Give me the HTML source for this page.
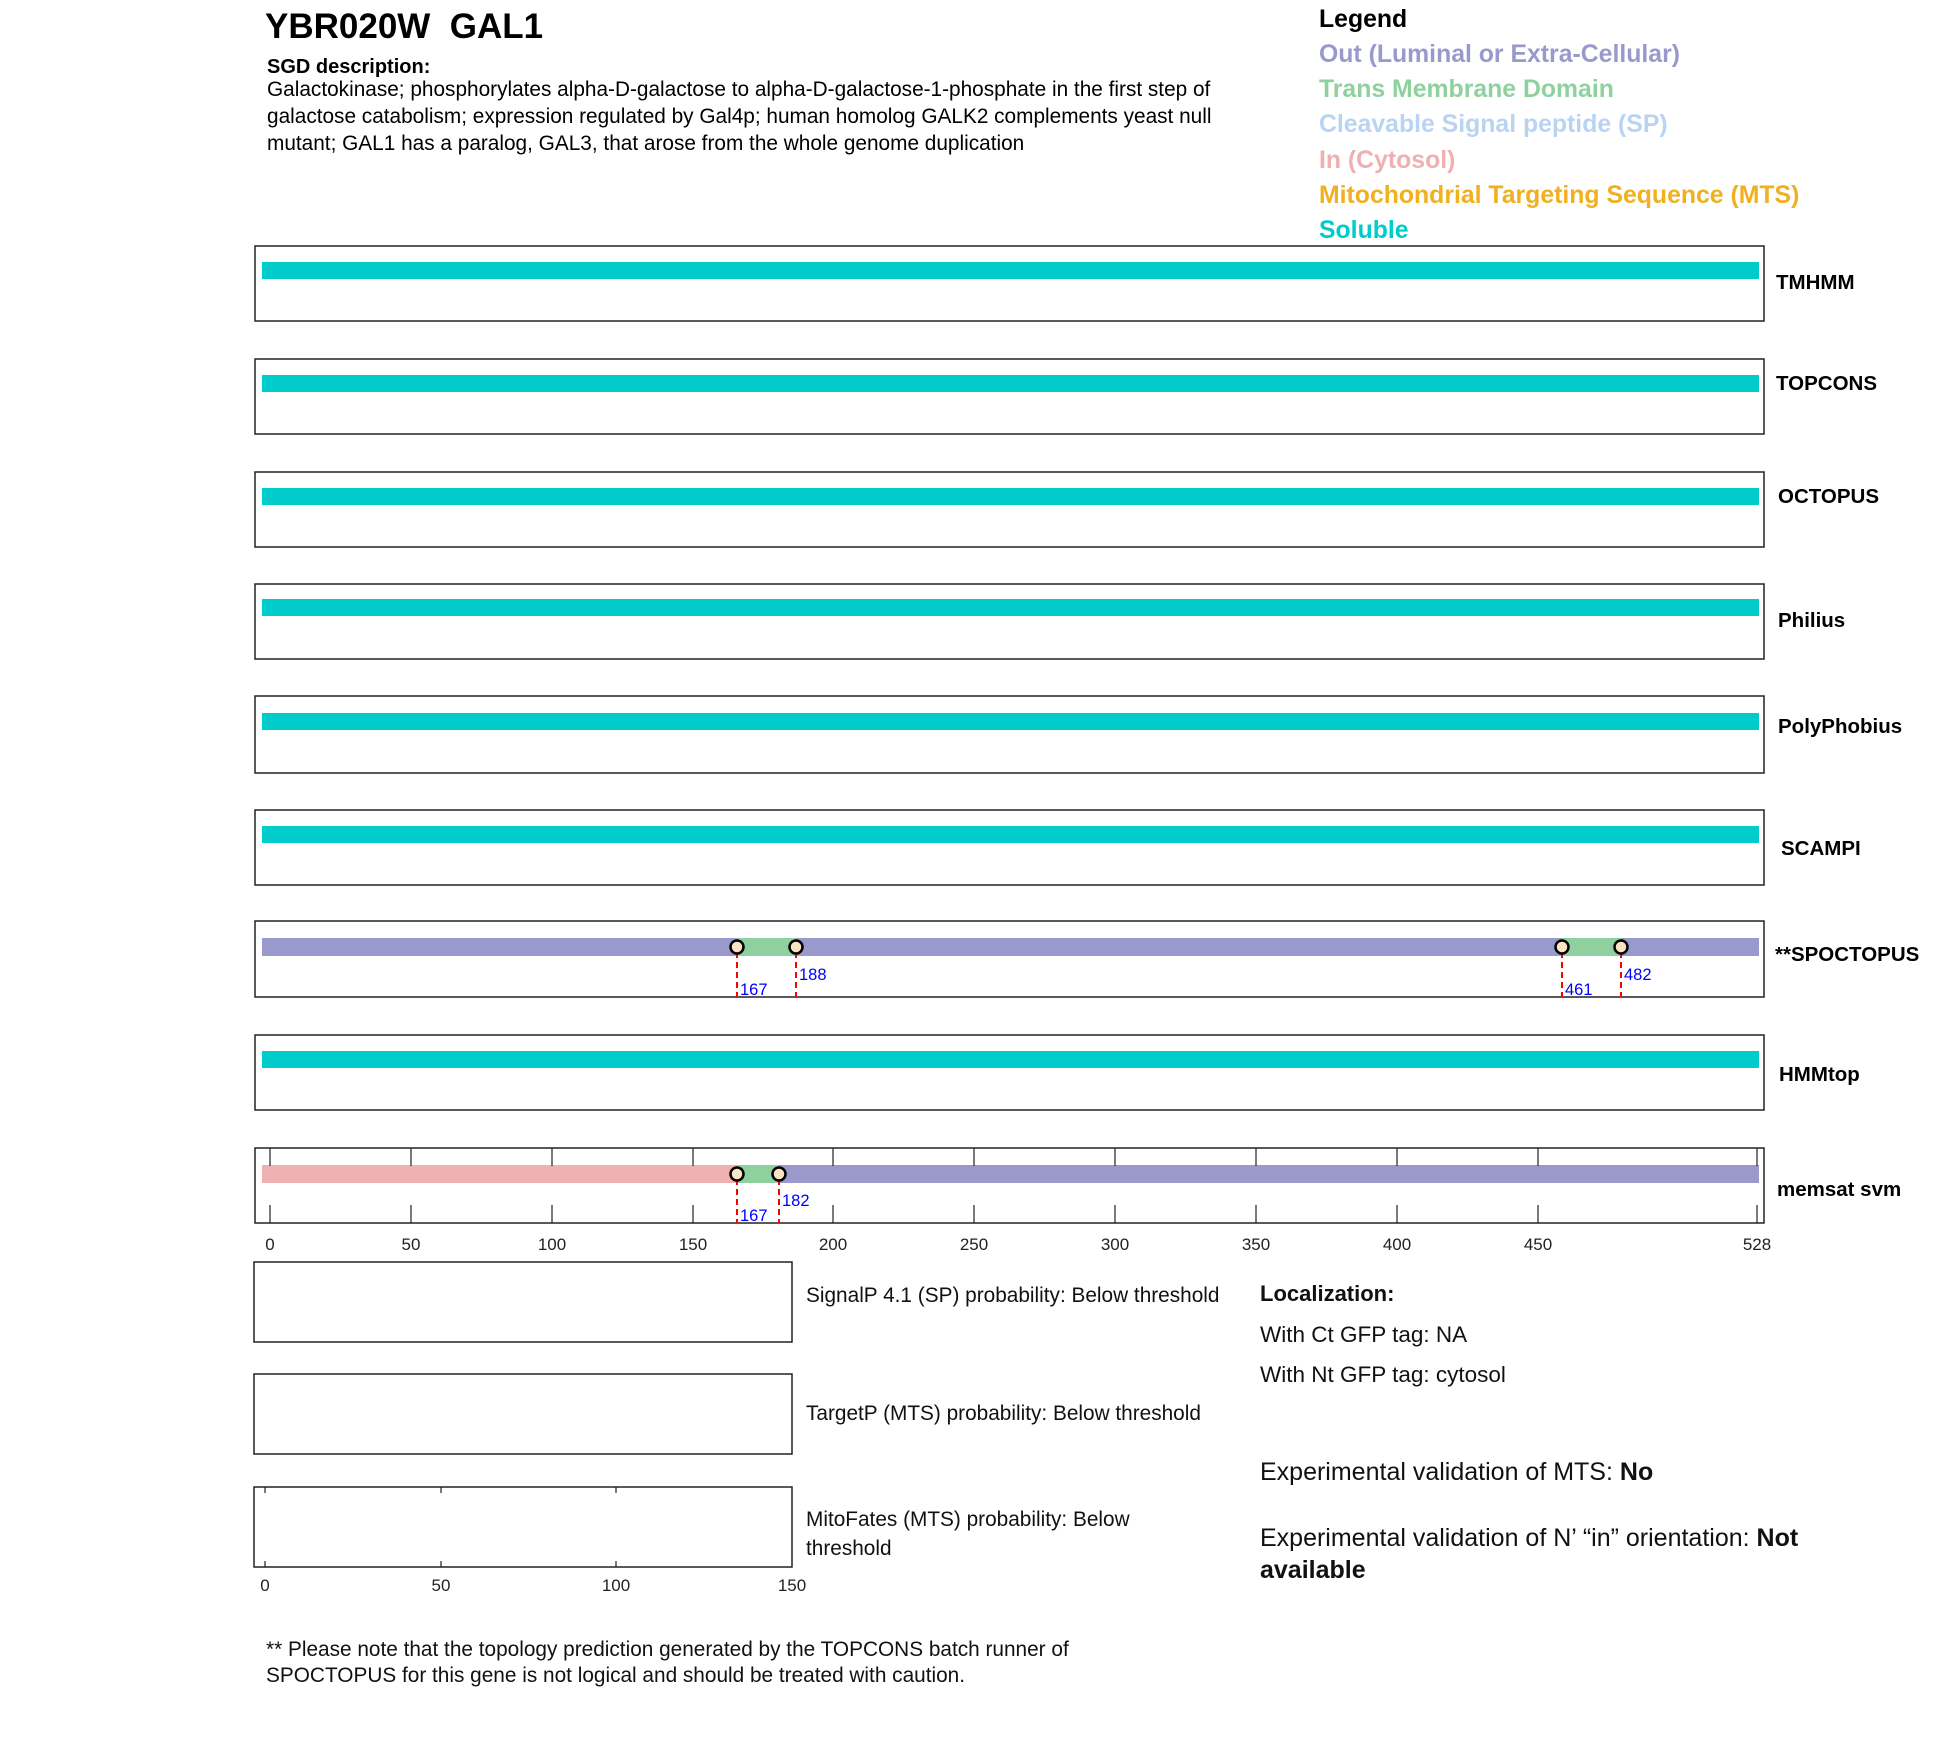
<!DOCTYPE html>
<html><head><meta charset="utf-8"><style>
body{margin:0;background:#fff;}
svg{display:block;font-family:"Liberation Sans",Arial,sans-serif;}
</style></head><body>
<svg width="1950" height="1761" viewBox="0 0 1950 1761" xmlns="http://www.w3.org/2000/svg">
<rect width="1950" height="1761" fill="#fff"/>
<text x="265" y="38" font-size="35" font-weight="bold" xml:space="preserve">YBR020W  GAL1</text>
<text x="267" y="73" font-size="20" font-weight="bold">SGD description:</text>
<text x="267" y="96" font-size="20.8">Galactokinase; phosphorylates alpha-D-galactose to alpha-D-galactose-1-phosphate in the first step of</text>
<text x="267" y="123" font-size="20.8">galactose catabolism; expression regulated by Gal4p; human homolog GALK2 complements yeast null</text>
<text x="267" y="150" font-size="20.8">mutant; GAL1 has a paralog, GAL3, that arose from the whole genome duplication</text>

<g font-size="24.8" font-weight="bold">
<text x="1319" y="27" fill="#000">Legend</text>
<text x="1319" y="62" fill="#9999cc">Out (Luminal or Extra-Cellular)</text>
<text x="1319" y="97" fill="#8fd19e">Trans Membrane Domain</text>
<text x="1319" y="132" fill="#b8d4f2">Cleavable Signal peptide (SP)</text>
<text x="1319" y="168" fill="#eeb0b0">In (Cytosol)</text>
<text x="1319" y="203" fill="#f0b020">Mitochondrial Targeting Sequence (MTS)</text>
<text x="1319" y="238" fill="#00cccc">Soluble</text>
</g>

<g stroke="#222" stroke-width="1.5" fill="none">
<rect x="255" y="246" width="1509" height="75"/>
<rect x="255" y="359" width="1509" height="75"/>
<rect x="255" y="472" width="1509" height="75"/>
<rect x="255" y="584" width="1509" height="75"/>
<rect x="255" y="696" width="1509" height="77"/>
<rect x="255" y="810" width="1509" height="75"/>
<rect x="255" y="921" width="1509" height="76"/>
<rect x="255" y="1035" width="1509" height="75"/>
<rect x="255" y="1148" width="1509" height="75"/>
</g>
<g fill="#00cccc">
<rect x="262" y="262" width="1497" height="17"/>
<rect x="262" y="375" width="1497" height="17"/>
<rect x="262" y="488" width="1497" height="17"/>
<rect x="262" y="599" width="1497" height="17"/>
<rect x="262" y="713" width="1497" height="17"/>
<rect x="262" y="826" width="1497" height="17"/>
<rect x="262" y="1051" width="1497" height="17"/>
</g>
<g font-size="20.5" font-weight="bold">
<text x="1776" y="289">TMHMM</text>
<text x="1776" y="390">TOPCONS</text>
<text x="1778" y="503">OCTOPUS</text>
<text x="1778" y="627">Philius</text>
<text x="1778" y="733">PolyPhobius</text>
<text x="1781" y="855">SCAMPI</text>
<text x="1775" y="961">**SPOCTOPUS</text>
<text x="1779" y="1081">HMMtop</text>
<text x="1777" y="1196">memsat svm</text>
</g>

<!-- SPOCTOPUS -->
<rect x="262" y="938" width="1497" height="18" fill="#9999cc"/>
<rect x="737" y="938" width="59" height="18" fill="#8fd19e"/>
<rect x="1562" y="938" width="59" height="18" fill="#8fd19e"/>
<g stroke="red" stroke-width="2" stroke-dasharray="6,4">
<line x1="737" y1="952" x2="737" y2="997"/><line x1="796" y1="952" x2="796" y2="997"/>
<line x1="1562" y1="952" x2="1562" y2="997"/><line x1="1621" y1="952" x2="1621" y2="997"/>
</g>
<g fill="#fae3c3" stroke="#000" stroke-width="2.5">
<circle cx="737" cy="947" r="6.5"/><circle cx="796" cy="947" r="6.5"/>
<circle cx="1562" cy="947" r="6.5"/><circle cx="1621" cy="947" r="6.5"/>
</g>
<g fill="#0000ff" font-size="16.5">
<text x="740" y="995">167</text><text x="799" y="980">188</text>
<text x="1565" y="995">461</text><text x="1624" y="980">482</text>
</g>

<!-- memsat -->
<rect x="262" y="1165" width="475" height="18" fill="#eeb0b0"/>
<rect x="737" y="1165" width="42" height="18" fill="#8fd19e"/>
<rect x="779" y="1165" width="980" height="18" fill="#9999cc"/>
<g stroke="#222" stroke-width="1.2">
<line x1="270" y1="1148" x2="270" y2="1166"/><line x1="270" y1="1223" x2="270" y2="1205"/>
<line x1="411" y1="1148" x2="411" y2="1166"/><line x1="411" y1="1223" x2="411" y2="1205"/>
<line x1="552" y1="1148" x2="552" y2="1166"/><line x1="552" y1="1223" x2="552" y2="1205"/>
<line x1="693" y1="1148" x2="693" y2="1166"/><line x1="693" y1="1223" x2="693" y2="1205"/>
<line x1="833" y1="1148" x2="833" y2="1166"/><line x1="833" y1="1223" x2="833" y2="1205"/>
<line x1="974" y1="1148" x2="974" y2="1166"/><line x1="974" y1="1223" x2="974" y2="1205"/>
<line x1="1115" y1="1148" x2="1115" y2="1166"/><line x1="1115" y1="1223" x2="1115" y2="1205"/>
<line x1="1256" y1="1148" x2="1256" y2="1166"/><line x1="1256" y1="1223" x2="1256" y2="1205"/>
<line x1="1397" y1="1148" x2="1397" y2="1166"/><line x1="1397" y1="1223" x2="1397" y2="1205"/>
<line x1="1538" y1="1148" x2="1538" y2="1166"/><line x1="1538" y1="1223" x2="1538" y2="1205"/>
<line x1="1757" y1="1148" x2="1757" y2="1166"/><line x1="1757" y1="1223" x2="1757" y2="1205"/>
</g>
<g stroke="red" stroke-width="2" stroke-dasharray="6,4">
<line x1="737" y1="1179" x2="737" y2="1223"/><line x1="779" y1="1179" x2="779" y2="1223"/>
</g>
<g fill="#fae3c3" stroke="#000" stroke-width="2.5">
<circle cx="737" cy="1174" r="6.5"/><circle cx="779" cy="1174" r="6.5"/>
</g>
<g fill="#0000ff" font-size="16.5">
<text x="740" y="1221">167</text><text x="782" y="1206">182</text>
</g>
<g font-size="17" fill="#222" text-anchor="middle">
<text x="270" y="1250">0</text><text x="411" y="1250">50</text><text x="552" y="1250">100</text>
<text x="693" y="1250">150</text><text x="833" y="1250">200</text><text x="974" y="1250">250</text>
<text x="1115" y="1250">300</text><text x="1256" y="1250">350</text><text x="1397" y="1250">400</text>
<text x="1538" y="1250">450</text><text x="1757" y="1250">528</text>
</g>

<!-- bottom boxes -->
<g stroke="#222" stroke-width="1.5" fill="none">
<rect x="254" y="1262" width="538" height="80"/>
<rect x="254" y="1374" width="538" height="80"/>
<rect x="254" y="1487" width="538" height="80"/>
</g>
<g stroke="#222" stroke-width="1.2">
<line x1="265" y1="1487" x2="265" y2="1493"/><line x1="265" y1="1567" x2="265" y2="1561"/>
<line x1="441" y1="1487" x2="441" y2="1493"/><line x1="441" y1="1567" x2="441" y2="1561"/>
<line x1="616" y1="1487" x2="616" y2="1493"/><line x1="616" y1="1567" x2="616" y2="1561"/>
</g>
<g font-size="17" fill="#222" text-anchor="middle">
<text x="265" y="1591">0</text><text x="441" y="1591">50</text><text x="616" y="1591">100</text><text x="792" y="1591">150</text>
</g>
<g font-size="20.8" fill="#111">
<text x="806" y="1302">SignalP 4.1 (SP) probability: Below threshold</text>
<text x="806" y="1420">TargetP (MTS) probability: Below threshold</text>
<text x="806" y="1526">MitoFates (MTS) probability: Below</text>
<text x="806" y="1555">threshold</text>
<text x="1260" y="1301" font-weight="bold" font-size="22">Localization:</text>
<text x="1260" y="1342" font-size="22.5">With Ct GFP tag: NA</text>
<text x="1260" y="1382" font-size="22.5">With Nt GFP tag: cytosol</text>
<text x="1260" y="1480" font-size="25">Experimental validation of MTS: <tspan font-weight="bold">No</tspan></text>
<text x="1260" y="1546" font-size="25">Experimental validation of N’ “in” orientation: <tspan font-weight="bold">Not</tspan></text>
<text x="1260" y="1578" font-size="25" font-weight="bold">available</text>
<text x="266" y="1656">** Please note that the topology prediction generated by the TOPCONS batch runner of</text>
<text x="266" y="1682">SPOCTOPUS for this gene is not logical and should be treated with caution.</text>
</g>
</svg>
</body></html>
